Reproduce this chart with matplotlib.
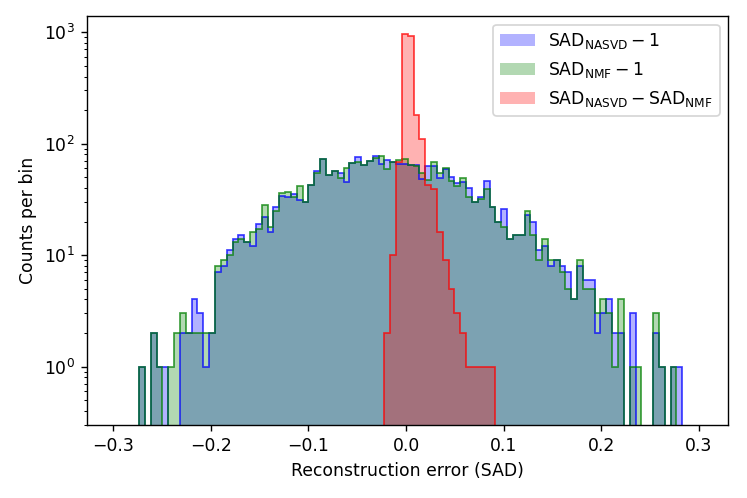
import numpy as np
import matplotlib
matplotlib.use('Agg')
import matplotlib.pyplot as plt

# shared bin grid (93 bins of ~0.006)
bin_lo = -0.2733
bin_hi = 0.2828
n_bins = 93

# counts per bin, SAD_NASVD - 1
counts_nasvd = [1, 0, 2, 1, 1, 0, 0, 2, 2, 4,
                3, 1, 2, 7, 8, 11, 14, 15, 13, 12,
                19, 22, 16, 27, 34, 33, 35, 31, 30, 43,
                57, 73, 52, 57, 55, 45, 67, 76, 64, 70,
                78, 66, 72, 69, 66, 66, 65, 65, 48, 63,
                63, 49, 59, 50, 44, 45, 40, 30, 33, 46,
                27, 20, 26, 14, 15, 15, 23, 20, 11, 12,
                8, 9, 8, 7, 4, 8, 6, 6, 2, 3,
                4, 2, 2, 0, 3, 0, 0, 0, 2, 1,
                0, 1, 1]

# counts per bin, SAD_NMF - 1
counts_nmf = [1, 0, 2, 1, 0, 1, 2, 3, 2, 2,
              2, 2, 2, 8, 9, 10, 13, 14, 13, 16,
              17, 28, 18, 25, 36, 37, 33, 42, 30, 43,
              54, 73, 52, 57, 49, 61, 67, 68, 64, 70,
              74, 77, 59, 69, 72, 73, 65, 63, 55, 47,
              68, 55, 60, 46, 42, 49, 33, 30, 32, 39,
              27, 20, 18, 14, 15, 15, 25, 15, 9, 14,
              9, 9, 7, 5, 4, 9, 5, 5, 3, 4,
              3, 1, 4, 0, 1, 1, 0, 0, 3, 1,
              0, 1, 0]

# SAD_NASVD - SAD_NMF, starts at bin 42 of the same grid
diff_first_bin = 42
counts_diff = [2, 10, 68, 960, 920, 182, 109, 43, 39, 16,
               9, 5, 3, 2, 1, 1, 1, 1, 1]

edges = np.linspace(bin_lo, bin_hi, n_bins + 1)
centers = 0.5 * (edges[:-1] + edges[1:])
diff_centers = centers[diff_first_bin:diff_first_bin + len(counts_diff)]

fig = plt.figure(figsize=(6, 4), dpi=124.5)
ax = fig.add_axes([0.116, 0.147, 0.859, 0.821])

series = [
    (centers, counts_nasvd, 'b', r'$\mathrm{SAD_{NASVD}} - 1$'),
    (centers, counts_nmf, 'g', r'$\mathrm{SAD_{NMF}} - 1$'),
    (diff_centers, counts_diff, 'r', r'$\mathrm{SAD_{NASVD}} - \mathrm{SAD_{NMF}}$'),
]
for x, w, c, lab in series:
    ax.hist(x, bins=edges, weights=w, histtype='stepfilled', log=True,
            color=c, alpha=0.3, label=lab)
    ax.hist(x, bins=edges, weights=w, histtype='step', log=True,
            color=c, alpha=0.75, lw=1.0)

ax.set_xlim(-0.327, 0.330)
ax.set_ylim(0.3, 1400)
ax.set_xticks([-0.3, -0.2, -0.1, 0.0, 0.1, 0.2, 0.3])
ax.set_xlabel('Reconstruction error (SAD)')
ax.set_ylabel('Counts per bin')
ax.legend(loc='upper right')

fig.savefig('out.png', dpi=124.5)
